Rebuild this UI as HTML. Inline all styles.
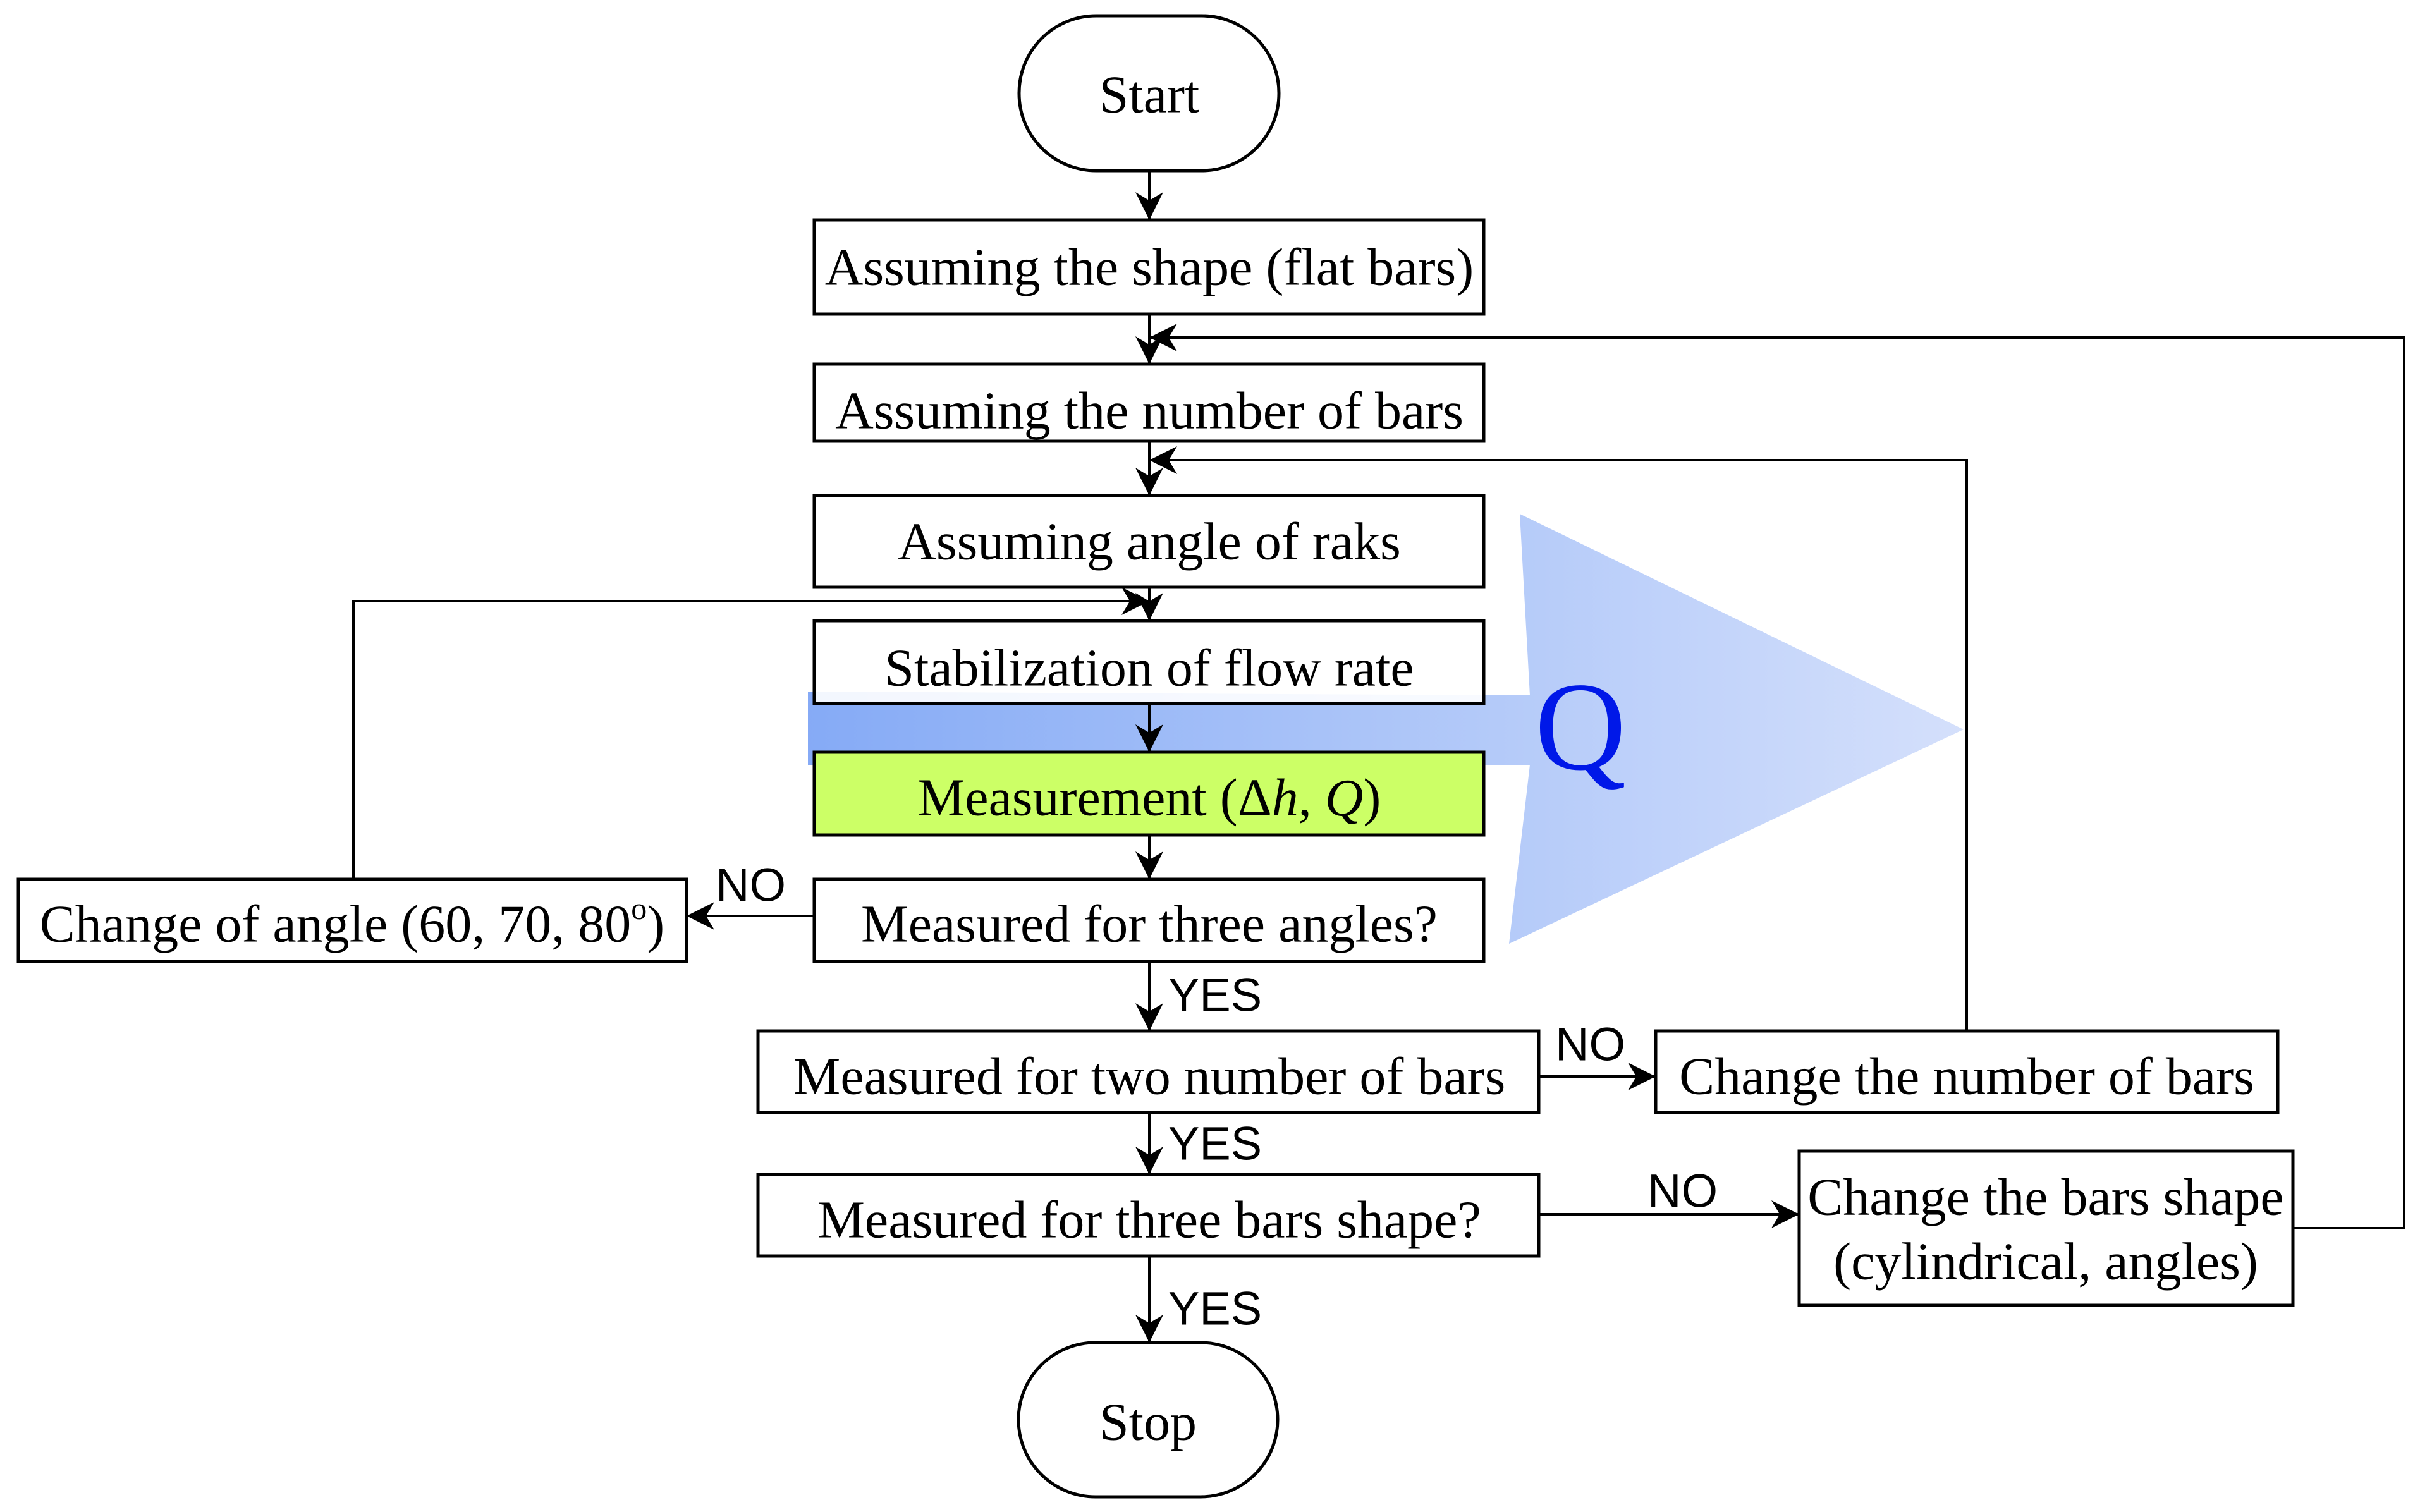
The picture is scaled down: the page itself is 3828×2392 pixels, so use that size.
<!DOCTYPE html>
<html><head><meta charset="utf-8"><style>
html,body{margin:0;padding:0;background:#fff;}
svg{display:block}
.t{font-family:"Liberation Serif",serif;font-size:84px;fill:#000;text-anchor:middle;dominant-baseline:central}
.l{font-family:"Liberation Sans",sans-serif;font-size:74px;fill:#000;dominant-baseline:central}
.b{fill:#fff;stroke:#000;stroke-width:5}
.c{stroke:#000;stroke-width:4;fill:none}
</style></head><body>
<svg width="3828" height="2392" viewBox="0 0 3828 2392" xmlns="http://www.w3.org/2000/svg">
<defs>
<marker id="a" viewBox="0 0 10 10" refX="10" refY="5" markerWidth="48" markerHeight="44" markerUnits="userSpaceOnUse" orient="auto">
<path d="M0,0 L10,5 L0,10 L3,5 z" fill="#000"/></marker>
<linearGradient id="g" x1="0" x2="1" y1="0" y2="0">
<stop offset="0" stop-color="#7fa6f5"/><stop offset="0.5" stop-color="#a8c2f8"/><stop offset="1" stop-color="#d2defb"/></linearGradient>
</defs>
<polygon points="2404,813 3106,1154 2387,1493 2420,1210 1278,1210 1278,1094 2420,1100" fill="url(#g)" opacity="0.95"/>
<rect x="1612" y="25" width="411" height="245" rx="122" class="b"/>
<text x="1818" y="150" class="t">Start</text>
<rect x="1288" y="348" width="1059" height="149" class="b"/>
<text x="1818" y="423" class="t">Assuming the shape (flat bars)</text>
<rect x="1288" y="576" width="1059" height="122" class="b"/>
<text x="1818" y="650" class="t">Assuming the number of bars</text>
<rect x="1288" y="784" width="1059" height="145" class="b"/>
<text x="1818" y="857" class="t">Assuming angle of raks</text>
<rect x="1288" y="982" width="1059" height="131" class="b" fill-opacity="0.9"/>
<text x="1818" y="1057" class="t">Stabilization of flow rate</text>
<rect x="1288" y="1190" width="1059" height="131" fill="#ccff66" stroke="#000" stroke-width="5"/>
<text x="1818" y="1262" class="t">Measurement (Δ<tspan font-style="italic">h</tspan>, <tspan font-style="italic">Q</tspan>)</text>
<rect x="1288" y="1391" width="1059" height="130" class="b"/>
<text x="1818" y="1462" class="t">Measured for three angles?</text>
<rect x="29" y="1391" width="1057" height="130" class="b"/>
<text x="557" y="1462" class="t">Change of angle (60, 70, 80<tspan font-size="50" dy="-25">o</tspan><tspan dy="25">)</tspan></text>
<rect x="1199" y="1631" width="1235" height="129" class="b"/>
<text x="1818" y="1703" class="t">Measured for two number of bars</text>
<rect x="2619" y="1631" width="984" height="129" class="b"/>
<text x="3111" y="1703" class="t">Change the number of bars</text>
<rect x="1199" y="1858" width="1235" height="129" class="b"/>
<text x="1818" y="1930" class="t">Measured for three bars shape?</text>
<rect x="2846" y="1821" width="781" height="244" class="b"/>
<text x="3236" y="1894" class="t">Change the bars shape</text>
<text x="3236" y="1996" class="t">(cylindrical, angles)</text>
<rect x="1611" y="2124" width="410" height="244" rx="122" class="b"/>
<text x="1816" y="2250" class="t">Stop</text>
<text x="2500" y="1150" font-family="Liberation Serif,serif" font-size="200" fill="#0018e8" text-anchor="middle" dominant-baseline="central">Q</text>
<line x1="1818" y1="270" x2="1818" y2="348" class="c" marker-end="url(#a)"/>
<line x1="1818" y1="497" x2="1818" y2="576" class="c" marker-end="url(#a)"/>
<line x1="1818" y1="698" x2="1818" y2="784" class="c" marker-end="url(#a)"/>
<line x1="1818" y1="929" x2="1818" y2="982" class="c" marker-end="url(#a)"/>
<line x1="1818" y1="1113" x2="1818" y2="1190" class="c" marker-end="url(#a)"/>
<line x1="1818" y1="1321" x2="1818" y2="1391" class="c" marker-end="url(#a)"/>
<line x1="1818" y1="1521" x2="1818" y2="1631" class="c" marker-end="url(#a)"/>
<line x1="1818" y1="1760" x2="1818" y2="1858" class="c" marker-end="url(#a)"/>
<line x1="1818" y1="1987" x2="1818" y2="2124" class="c" marker-end="url(#a)"/>
<line x1="1288" y1="1449" x2="1086" y2="1449" class="c" marker-end="url(#a)"/>
<polyline points="559,1391 559,951 1818,951" class="c" marker-end="url(#a)"/>
<line x1="2434" y1="1703" x2="2619" y2="1703" class="c" marker-end="url(#a)"/>
<polyline points="3111,1631 3111,728 1818,728" class="c" marker-end="url(#a)"/>
<line x1="2434" y1="1921" x2="2846" y2="1921" class="c" marker-end="url(#a)"/>
<polyline points="3627,1943 3803,1943 3803,534 1818,534" class="c" marker-end="url(#a)"/>
<text x="1132" y="1400" class="l">NO</text>
<text x="1848" y="1574" class="l">YES</text>
<text x="2460" y="1652" class="l">NO</text>
<text x="1848" y="1809" class="l">YES</text>
<text x="2606" y="1884" class="l">NO</text>
<text x="1848" y="2070" class="l">YES</text>
</svg>
</body></html>
